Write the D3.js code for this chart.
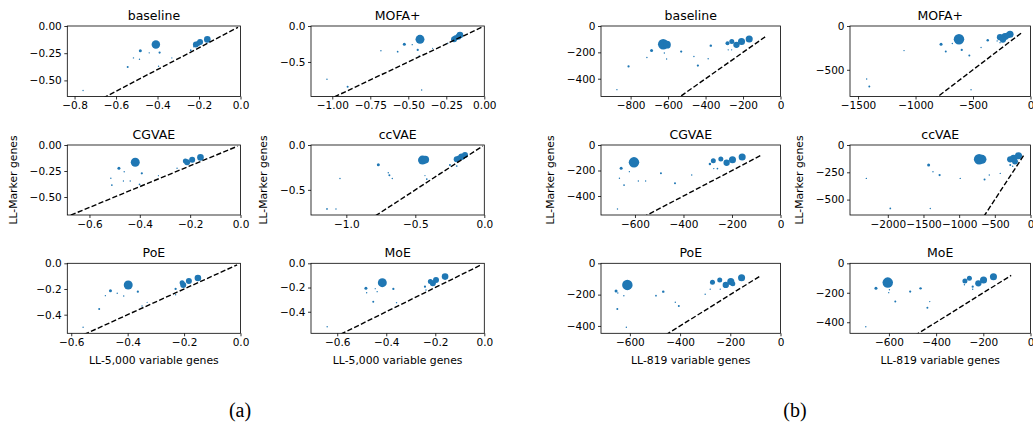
<!DOCTYPE html>
<html>
<head>
<meta charset="utf-8">
<script src="https://cdn.jsdelivr.net/npm/d3@7"></script>
<style>
body { margin: 0; background: #fff; }
text { font-family: "DejaVu Sans", sans-serif; fill: #000; }
</style>
</head>
<body>
<svg width="1033" height="428"></svg>
<script>
// Marker-gene vs variable-gene log-likelihood, 6 models x 2 gene sets

// each point: [LL variable genes, LL marker genes, dataset size]
var A_baseline = [[-0.408,-0.170,72],[-0.160,-0.123,44],[-0.195,-0.148,36],[-0.215,-0.170,36],[-0.205,-0.160,25],
	[-0.483,-0.228,9],[-0.390,-0.244,5],[-0.544,-0.377,4],[-0.240,-0.222,3],[-0.440,-0.247,2],[-0.516,-0.293,2],
	[-0.487,-0.305,2],[-0.331,-0.293,1.5],[-0.395,-0.370,2],[-0.759,-0.593,2],[-0.225,-0.190,2]];
var A_mofa = [[-0.423,-0.185,80],[-0.199,-0.185,36],[-0.171,-0.148,36],[-0.160,-0.125,44],[-0.190,-0.165,25],
	[-0.526,-0.254,9],[-0.438,-0.333,5],[-0.474,-0.259,2],[-0.570,-0.357,3],[-0.680,-0.343,2],[-0.428,-0.417,2],
	[-0.340,-0.310,1.5],[-1.035,-0.740,2],[-0.899,-0.843,4],[-0.412,-0.889,2],[-0.240,-0.240,2]];
var A_cgvae = [[-0.418,-0.166,80],[-0.159,-0.119,44],[-0.192,-0.141,36],[-0.212,-0.166,36],[-0.219,-0.154,25],
	[-0.483,-0.224,9],[-0.392,-0.272,5],[-0.462,-0.257,2],[-0.515,-0.320,2],[-0.511,-0.385,3],[-0.465,-0.346,2],
	[-0.438,-0.346,2],[-0.401,-0.378,3],[-0.326,-0.295,1.5],[-0.252,-0.224,2]];
var A_ccvae = [[-0.448,-0.168,80],[-0.428,-0.162,60],[-0.200,-0.160,36],[-0.164,-0.131,44],[-0.140,-0.112,36],
	[-0.185,-0.145,25],[-0.768,-0.221,9],[-0.696,-0.310,2],[-0.688,-0.336,4],[-0.667,-0.373,2],[-1.046,-0.373,2],
	[-1.140,-0.713,3],[-1.075,-0.713,2],[-0.417,-0.380,3],[-0.430,-0.340,1.5],[-0.249,-0.224,4],[-0.200,-0.234,3],
	[-0.321,-0.317,2]];
var A_poe = [[-0.398,-0.169,80],[-0.151,-0.114,44],[-0.183,-0.138,36],[-0.203,-0.169,36],[-0.207,-0.151,25],
	[-0.461,-0.213,9],[-0.364,-0.221,5],[-0.414,-0.254,2],[-0.437,-0.233,2],[-0.479,-0.252,2],[-0.501,-0.356,4],
	[-0.558,-0.498,2],[-0.349,-0.332,2],[-0.331,-0.304,1.5],[-0.230,-0.200,5],[-0.230,-0.245,2]];
var A_moe = [[-0.416,-0.160,80],[-0.160,-0.110,44],[-0.197,-0.138,36],[-0.210,-0.165,36],[-0.220,-0.150,25],
	[-0.483,-0.207,9],[-0.371,-0.212,5],[-0.480,-0.243,2],[-0.437,-0.234,2],[-0.445,-0.210,1.5],[-0.453,-0.317,4],
	[-0.641,-0.524,2],[-0.358,-0.325,2],[-0.242,-0.193,5],[-0.238,-0.220,2]];

var B_baseline = [[-626,-138,110],[-606,-142,60],[-167,-98,50],[-208,-118,50],[-235,-143,40],[-260,-118,25],
	[-283,-131,16],[-688,-186,9],[-372,-149,6],[-530,-194,5],[-441,-300,5],[-811,-307,5],[-608,-251,2],
	[-620,-205,2],[-713,-239,2],[-462,-232,2],[-386,-249,2],[-873,-483,2],[-279,-181,2],[-261,-181,2]];
var B_mofa = [[-622,-151,110],[-178,-94,50],[-222,-121,50],[-265,-128,40],[-240,-155,40],[-200,-108,36],
	[-778,-208,9],[-372,-163,6],[-598,-273,5],[-737,-292,4],[-532,-338,4],[-1100,-281,2],[-430,-246,2],
	[-1425,-606,2],[-1402,-690,4],[-517,-727,2],[-680,-200,2],[-290,-170,2],[-265,-190,2]];
var B_cgvae = [[-604,-136,110],[-158,-94,50],[-198,-115,50],[-222,-139,40],[-246,-110,25],[-277,-123,25],
	[-291,-149,6],[-657,-183,9],[-664,-261,2],[-623,-209,2],[-645,-314,3],[-586,-282,2],[-556,-282,2],
	[-493,-222,4],[-435,-300,4],[-366,-235,2],[-672,-502,2],[-260,-185,3],[-275,-185,2]];
var B_ccvae = [[-720,-131,110],[-680,-131,80],[-168,-98,50],[-238,-122,50],[-284,-131,40],[-217,-150,36],
	[-1428,-183,9],[-1274,-275,5],[-1367,-245,2],[-985,-306,2],[-644,-315,4],[-578,-275,2],[-424,-260,2],
	[-2301,-306,2],[-1965,-581,3],[-1405,-581,2],[-284,-183,4],[-250,-195,2]];
var B_poe = [[-610,-138,110],[-155,-92,50],[-198,-117,50],[-218,-138,40],[-242,-107,25],[-271,-121,25],
	[-190,-130,25],[-655,-177,9],[-467,-181,6],[-496,-207,3],[-624,-207,2],[-648,-190,2],[-650,-292,4],
	[-419,-249,2],[-405,-272,4],[-614,-408,2],[-300,-198,2],[-280,-165,2],[-240,-165,2]];
var B_moe = [[-605,-131,110],[-157,-91,50],[-199,-113,50],[-221,-136,40],[-259,-102,25],[-278,-120,25],
	[-655,-170,9],[-466,-170,6],[-510,-192,5],[-601,-199,2],[-598,-180,2],[-573,-260,4],[-427,-260,2],
	[-437,-301,4],[-698,-430,2],[-245,-159,5],[-245,-176,2],[-280,-145,2]];

var titles = ["baseline", "MOFA+", "CGVAE", "ccVAE", "PoE", "MoE"];
var xLabels = ["LL-5,000 variable genes", "LL-819 variable genes"];
var yLabel = "LL-Marker genes";
var subLabels = ["(a)", "(b)"];

// axis limits (lower ends; upper end is 0) and ticks
var xMinA = [-0.835, -1.14, -0.688, -1.256, -0.614, -0.707];
var yMinA = [-0.648, -0.98, -0.673, -0.78, -0.545, -0.578];
var xTicksA = [[-0.8,-0.6,-0.4,-0.2,0], [-1,-0.75,-0.5,-0.25,0], [-0.6,-0.4,-0.2,0], [-1,-0.5,0], [-0.6,-0.4,-0.2,0], [-0.6,-0.4,-0.2,0]];
var yTicksA = [[0,-0.25,-0.5], [0,-0.5], [0,-0.25,-0.5], [0,-0.5], [0,-0.2,-0.4], [0,-0.2,-0.4]];
var xFmtA = [".1f", ".2f", ".1f", ".1f", ".1f", ".1f"];
var yFmtA = [".2f", ".1f", ".2f", ".1f", ".1f", ".1f"];

var xMinB = [-958, -1570, -740, -2530, -715, -765];
var yMinB = [-535, -805, -549, -641, -447, -475];
var xTicksB = [[-800,-600,-400,-200,0], [-1500,-1000,-500,0], [-600,-400,-200,0], [-2000,-1500,-1000,-500,0], [-600,-400,-200,0], [-600,-400,-200,0]];
var yTicksB = [[0,-200,-400], [0,-500], [0,-200,-400], [0,-250,-500], [0,-200,-400], [0,-200,-400]];

// upper end of the y = x reference line
var diagTop = [-0.012, -82];

var dataA = [A_baseline, A_mofa, A_cgvae, A_ccvae, A_poe, A_moe];
var dataB = [B_baseline, B_mofa, B_cgvae, B_ccvae, B_poe, B_moe];

// layout in pixels
var colsX = [[[67.3, 240.5], [311, 484.3]], [[601, 780.5], [850, 1030.5]]];
var rowsY = [[26, 96.5], [145, 215], [263.3, 333.3]];
var figCenter = [240, 795];

var svg = d3.select("svg");
var defs = svg.append("defs");
var radius = d3.scaleSqrt().domain([0, 100]).range([0, 5]);

function drawPanel(fig, i){
	var col = i % 2, row = Math.floor(i / 2);
	var xr = colsX[fig][col], yr = rowsY[row];
	var pts = fig == 0 ? dataA[i] : dataB[i];
	var xMin = fig == 0 ? xMinA[i] : xMinB[i];
	var yMin = fig == 0 ? yMinA[i] : yMinB[i];
	var xTicks = fig == 0 ? xTicksA[i] : xTicksB[i];
	var yTicks = fig == 0 ? yTicksA[i] : yTicksB[i];
	var xFmt = d3.format(fig == 0 ? xFmtA[i] : "d");
	var yFmt = d3.format(fig == 0 ? yFmtA[i] : "d");

	var x = d3.scaleLinear().domain([xMin, 0]).range(xr);
	var y = d3.scaleLinear().domain([yMin, 0]).range([yr[1], yr[0]]);

	var id = "clip" + fig + "_" + i;
	defs.append("clipPath").attr("id", id)
		.append("rect")
		.attr("x", xr[0]).attr("y", yr[0])
		.attr("width", xr[1] - xr[0]).attr("height", yr[1] - yr[0]);

	var g = svg.append("g");
	var plot = g.append("g").attr("clip-path", "url(#" + id + ")");

	plot.selectAll("circle")
		.data(pts)
		.enter().append("circle")
		.attr("cx", d => x(d[0]))
		.attr("cy", d => y(d[1]))
		.attr("r", d => radius(d[2]))
		.attr("fill", "#1f77b4");

	var lo = Math.min(xMin, yMin) * 1.1;
	plot.append("line")
		.attr("x1", x(lo)).attr("y1", y(lo))
		.attr("x2", x(diagTop[fig])).attr("y2", y(diagTop[fig]))
		.attr("stroke", "#000")
		.attr("stroke-width", 1.4)
		.attr("stroke-dasharray", "5.2,2.3");

	// axes
	var xAxis = d3.axisBottom(x).tickValues(xTicks).tickFormat(xFmt).tickSize(3).tickPadding(2.5);
	var yAxis = d3.axisLeft(y).tickValues(yTicks).tickFormat(yFmt).tickSize(3).tickPadding(2.5);
	var xg = g.append("g").attr("transform", "translate(0," + yr[1] + ")").call(xAxis);
	var yg = g.append("g").attr("transform", "translate(" + xr[0] + ",0)").call(yAxis);
	[xg, yg].forEach(a => {
		a.select(".domain").remove();
		a.selectAll("line").attr("stroke", "#000").attr("stroke-width", 0.8);
		a.selectAll("text").attr("font-size", "10.5px").attr("font-family", "DejaVu Sans").attr("fill", "#000");
	});

	g.append("rect")
		.attr("x", xr[0]).attr("y", yr[0])
		.attr("width", xr[1] - xr[0]).attr("height", yr[1] - yr[0])
		.attr("fill", "none").attr("stroke", "#000").attr("stroke-width", 0.8);

	g.append("text")
		.attr("x", (xr[0] + xr[1]) / 2).attr("y", yr[0] - 6)
		.attr("text-anchor", "middle")
		.attr("font-size", "12.5px")
		.text(titles[i]);

	if (row == 1) {
		var w = d3.max(yg.selectAll("text").nodes(), n => n.getComputedTextLength());
		var lx = xr[0] - w - 5.5 - 13;
		g.append("text")
			.attr("transform", "translate(" + lx + "," + ((yr[0] + yr[1]) / 2) + ") rotate(-90)")
			.attr("text-anchor", "middle")
			.attr("font-size", "10.8px")
			.text(yLabel);
	}
	if (row == 2) {
		g.append("text")
			.attr("x", (xr[0] + xr[1]) / 2).attr("y", yr[1] + 31)
			.attr("text-anchor", "middle")
			.attr("font-size", "10.8px")
			.text(xLabels[fig]);
	}
}

[0, 1].forEach(fig => {
	d3.range(6).forEach(i => drawPanel(fig, i));
	svg.append("text")
		.attr("x", figCenter[fig]).attr("y", 417)
		.attr("text-anchor", "middle")
		.attr("font-family", "Liberation Serif, serif")
		.style("font-family", "'Liberation Serif', serif")
		.attr("font-size", "20px")
		.text(subLabels[fig]);
});
</script>
</body>
</html>
